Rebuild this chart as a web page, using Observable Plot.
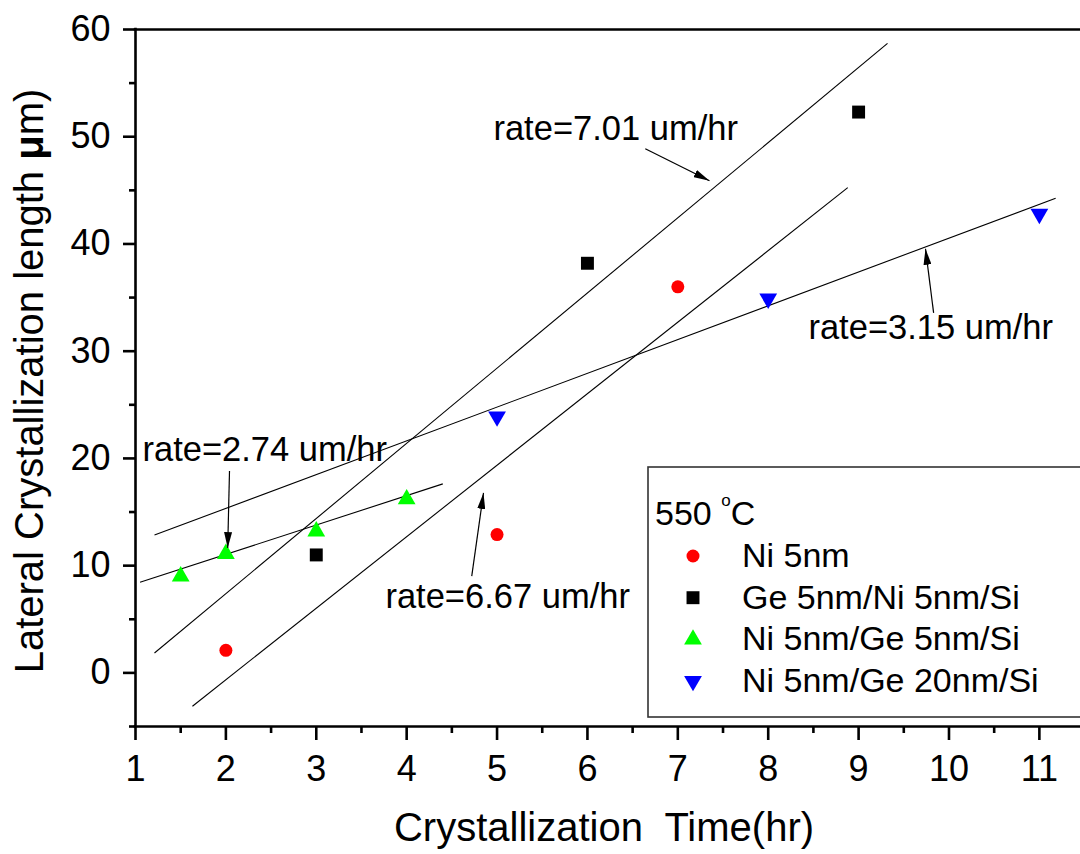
<!DOCTYPE html>
<html>
<head>
<meta charset="utf-8">
<script src="https://cdn.jsdelivr.net/npm/d3@7"></script>
<script src="https://cdn.jsdelivr.net/npm/@observablehq/plot@0.6"></script>
<style>
  body { margin: 0; background: #fff; }
  svg { display: block; }
</style>
</head>
<body>
<div id="chart"></div>
<script>
// Lateral crystallization length (µm) vs. annealing time (hr) at 550 °C
const seriesNames = ["Ni 5nm", "Ge 5nm/Ni 5nm/Si", "Ni 5nm/Ge 5nm/Si", "Ni 5nm/Ge 20nm/Si"];

const niTime = [2, 5, 7];
const niLength = [2.1, 12.9, 36.0];
const geNiTime = [3, 6, 9];
const geNiLength = [11.0, 38.2, 52.3];
const niGe5Time = [1.5, 2, 3, 4];
const niGe5Length = [9.0, 11.1, 13.2, 16.2];
const niGe20Time = [5, 8, 11];
const niGe20Length = [23.9, 34.9, 42.8];

// Linear fits: growth rate (µm/hr), intercept (µm), and the time span each line covers
const fitRates = [7.01, 6.67, 3.15, 2.74];
const fitIntercepts = [-6.63, -13.98, 9.04, 5.57];
const fitFrom = [1.21, 1.63, 1.21, 1.05];
const fitTo = [9.32, 8.88, 11.18, 4.40];

// Rate call-outs (same order as the fits): label anchor and arrow (tail -> head), in data units
const noteLabelX = [4.96, 3.765, 8.445, 1.077];
const noteLabelY = [49.74, 6.04, 31.15, 19.77];
const arrowFromX = [6.64, 4.72, 9.83, 2.04];
const arrowFromY = [48.88, 9.03, 33.58, 18.83];
const arrowToX = [7.35, 4.85, 9.74, 2.02];
const arrowToY = [45.89, 16.78, 39.55, 11.64];

// Axis ticks
const xTicks = [1, 2, 3, 4, 5, 6, 7, 8, 9, 10, 11];
const xMinorTicks = [1.5, 2.5, 3.5, 4.5, 5.5, 6.5, 7.5, 8.5, 9.5, 10.5];
const yTicks = [0, 10, 20, 30, 40, 50, 60];
const yMinorTicks = [-5, 5, 15, 25, 35, 45, 55];

// Marker styling per series
const seriesColors = ["#ff0000", "#000000", "#00ff00", "#0000ff"];
const seriesSymbols = ["circle", "square", "triangle", "triangle"];
const seriesRadius = [6.5, 7.3, 6.6, 6.6];
const seriesRotate = [0, 0, 0, 180];

const seriesTimes = [niTime, geNiTime, niGe5Time, niGe20Time];
const seriesLengths = [niLength, geNiLength, niGe5Length, niGe20Length];

const points = seriesNames.flatMap((name, s) =>
  seriesTimes[s].map((t, i) => ({series: s, name, time: t, length: seriesLengths[s][i]}))
);

const fits = fitRates.map((rate, i) => ({
  rate, b: fitIntercepts[i], from: fitFrom[i], to: fitTo[i]
}));

const notes = fitRates.map((rate, i) => ({
  rate,
  lx: noteLabelX[i], ly: noteLabelY[i],
  fx: arrowFromX[i], fy: arrowFromY[i],
  tx: arrowToX[i], ty: arrowToY[i]
}));

const FONT = "'Liberation Sans', Arial, Helvetica, sans-serif";

const chart = Plot.plot({
  width: 1080,
  height: 854,
  marginLeft: 135,
  marginRight: 0,
  marginTop: 29,
  marginBottom: 128,
  x: {domain: [1, 11.455]},
  y: {domain: [-5, 60]},
  style: {fontFamily: FONT, background: "#fff", color: "#000", overflow: "visible"},
  marks: [
    // frame (left, bottom, top)
    Plot.ruleX([1], {stroke: "#000", strokeWidth: 2.6, strokeLinecap: "square"}),
    Plot.ruleY([-5], {stroke: "#000", strokeWidth: 2.6, strokeLinecap: "square"}),
    Plot.ruleY([60], {stroke: "#000", strokeWidth: 2.6, strokeLinecap: "square"}),

    // axes
    Plot.axisY(yTicks, {anchor: "left", tickSize: 12, tickPadding: 13, fontSize: 36, strokeWidth: 2.6, label: null}),
    Plot.axisY(yMinorTicks, {anchor: "left", tickSize: 6, strokeWidth: 2.6, label: null, tickFormat: () => ""}),
    Plot.axisX(xTicks, {anchor: "bottom", tickSize: 14, tickPadding: 15, fontSize: 36, strokeWidth: 2.6, label: null}),
    Plot.axisX(xMinorTicks, {anchor: "bottom", tickSize: 7, strokeWidth: 2.6, label: null, tickFormat: () => ""}),

    // fitted lines
    Plot.link(fits, {
      x1: "from", x2: "to",
      y1: d => d.b + d.rate * d.from,
      y2: d => d.b + d.rate * d.to,
      stroke: "#000", strokeWidth: 1.1
    }),

    // measured points
    ...seriesNames.map((name, s) =>
      Plot.dot(points.filter(d => d.series === s), {
        x: "time", y: "length",
        symbol: seriesSymbols[s], fill: seriesColors[s],
        r: seriesRadius[s], rotate: seriesRotate[s], stroke: "none"
      })
    ),

    // rate call-outs
    Plot.link(notes, {x1: "fx", y1: "fy", x2: "tx", y2: "ty", stroke: "#000", strokeWidth: 1.2, ariaLabel: () => "rate arrow"}),
    Plot.text(notes, {
      x: "lx", y: "ly",
      text: d => `rate=${d.rate.toFixed(2)} um/hr`,
      textAnchor: "start", lineAnchor: "bottom", fontSize: 34.5, fill: "#000"
    })
  ]
});

document.getElementById("chart").append(chart);

const svg = d3.select(chart);

// filled arrowheads for the call-outs
svg.append("defs").append("marker")
  .attr("id", "rate-head")
  .attr("viewBox", "0 0 16 8")
  .attr("refX", 16).attr("refY", 4)
  .attr("markerWidth", 16).attr("markerHeight", 8)
  .attr("markerUnits", "userSpaceOnUse")
  .attr("orient", "auto")
  .append("path").attr("d", "M0,0L16,4L0,8Z").attr("fill", "#000").attr("stroke", "none");
svg.selectAll('[aria-label="rate arrow"], [aria-label="rate arrow"] path')
  .filter(function() { return this.tagName === "path"; })
  .attr("marker-end", "url(#rate-head)");

// axis titles
const yTitle = svg.append("text")
  .attr("transform", "translate(43,381) rotate(-90)")
  .attr("text-anchor", "middle")
  .attr("font-size", 40)
  .attr("fill", "#000");
yTitle.append("tspan").text("Lateral Crystallization length ");
yTitle.append("tspan").attr("font-weight", "bold").text("μ");
yTitle.append("tspan").text("m)");

svg.append("text")
  .attr("x", 604).attr("y", 841)
  .attr("text-anchor", "middle")
  .attr("font-size", 40)
  .attr("fill", "#000")
  .style("white-space", "pre")
  .text("Crystallization  Time(hr)");

// legend
const legend = svg.append("g").attr("font-size", 34).attr("fill", "#000").attr("text-anchor", "start");
legend.append("rect")
  .attr("x", 648).attr("y", 467).attr("width", 470).attr("height", 250)
  .attr("fill", "#fff").attr("stroke", "#333").attr("stroke-width", 1.6);
const head = legend.append("text").attr("x", 655).attr("y", 525).attr("text-anchor", "start");
head.append("tspan").text("550 ");
head.append("tspan").attr("font-size", 17).attr("dy", -19).text("o");
head.append("tspan").attr("dy", 19).text("C");

seriesNames.forEach((name, s) => {
  const base = 567 + s * 41.7;
  const r = seriesRadius[s];
  legend.append("path")
    .attr("d", d3.symbol(
      {circle: d3.symbolCircle, square: d3.symbolSquare, triangle: d3.symbolTriangle}[seriesSymbols[s]],
      Math.PI * r * r)())
    .attr("transform", `translate(693,${base - 11}) rotate(${seriesRotate[s]})`)
    .attr("fill", seriesColors[s]);
  legend.append("text").attr("x", 742).attr("y", base).attr("text-anchor", "start").text(name);
});
</script>
</body>
</html>
